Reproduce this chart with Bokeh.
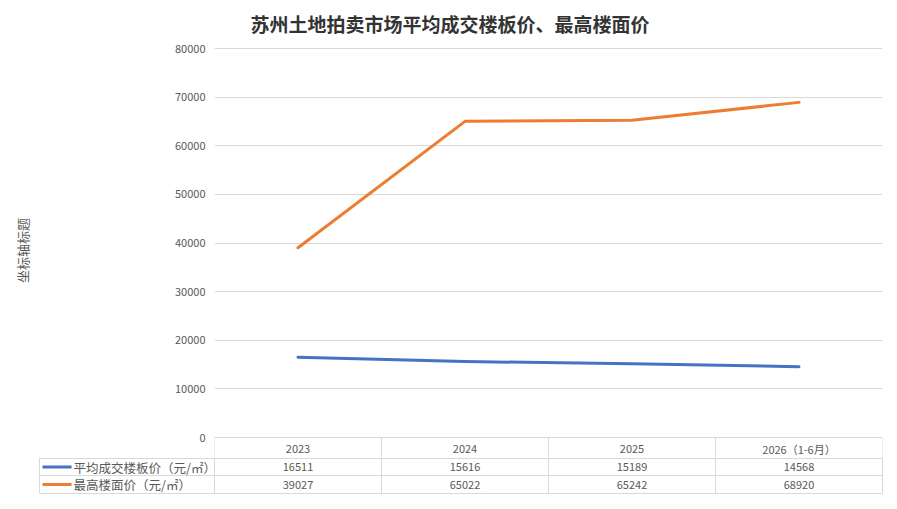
from bokeh.plotting import figure
from bokeh.models import Range1d, SingleIntervalTicker
from bokeh.layouts import column
from bokeh.embed import file_html
from bokeh.resources import INLINE
from bokeh.core.properties import value

title_text = "苏州土地拍卖市场平均成交楼板价、最高楼面价"
y_title = "坐标轴标题"
categories = ["2023", "2024", "2025", "2026（1-6月）"]
series_names = ["平均成交楼板价（元/㎡）", "最高楼面价（元/㎡）"]
avg_price = [16511, 15616, 15189, 14568]
max_price = [39027, 65022, 65242, 68920]
series_values = [avg_price, max_price]
colors = ["#4472C4", "#ED7D31"]

FONT = "Noto Sans CJK SC"
TXT = "#595959"
GRID = "#D9D9D9"
n = len(categories)
xs = [i + 0.5 for i in range(n)]

# ---------------- main chart (with table header row) ----------------
UPP = 80000 / 389.0           # data units per pixel
Y_TOP = 80000 + 5 * UPP
Y_BOT = -20 * UPP
p = figure(frame_width=668, frame_height=414, x_range=Range1d(0, n), y_range=Range1d(Y_BOT, Y_TOP),
           output_backend="svg", toolbar_location=None, x_axis_location=None,
           min_border_left=214, min_border_right=2, min_border_top=37, min_border_bottom=0,
           background_fill_color="white", border_fill_color="white")
p.frame_align = False
p.outline_line_color = None
p.title.text = title_text
p.title.align = "left"
p.title.offset = 36
p.title.standoff = 14
p.title.text_font = FONT
p.title.text_font_size = "19px"
p.title.text_font_style = "bold"
p.title.text_color = "#333333"

p.yaxis.ticker = SingleIntervalTicker(interval=10000)
p.yaxis.axis_line_color = None
p.yaxis.major_tick_line_color = None
p.yaxis.minor_tick_line_color = None
p.yaxis.major_tick_out = 0
p.yaxis.major_tick_in = 0
p.yaxis.minor_tick_out = 0
p.yaxis.minor_tick_in = 0
p.yaxis.major_label_standoff = 9
p.yaxis.major_label_text_font = FONT
p.yaxis.major_label_text_font_size = "11px"
p.yaxis.major_label_text_color = TXT
p.yaxis.axis_label = y_title
p.yaxis.axis_label_text_font = FONT
p.yaxis.axis_label_text_font_size = "13px"
p.yaxis.axis_label_text_font_style = "normal"
p.yaxis.axis_label_text_color = TXT
p.yaxis.axis_label_standoff = 140
p.ygrid.grid_line_color = GRID
p.xgrid.visible = False

for vals, c in zip(series_values, colors):
    p.line(xs, vals, line_color=c, line_width=3, line_cap="round", line_join="round")

# header row of the data table
vx = list(range(n + 1))
p.segment(x0=vx, y0=[0] * (n + 1), x1=vx, y1=[Y_BOT] * (n + 1), line_color=GRID, line_width=1)
p.text(x=xs, y=[-11 * UPP] * n, text=categories, text_font=value(FONT), text_font_size="11px",
       text_color=TXT, text_align="center", text_baseline="middle")

# ---------------- data table rows ----------------
t = figure(frame_width=846, frame_height=38, x_range=Range1d(-1.054, 4.012), y_range=Range1d(38, 0),
           output_backend="svg", toolbar_location=None, x_axis_location=None, y_axis_location=None,
           min_border_left=38, min_border_right=4, min_border_top=0, min_border_bottom=0,
           background_fill_color="white", border_fill_color="white")
t.frame_align = False
t.outline_line_color = None
t.grid.visible = False

LEFT = -1.048
row_lines = [1, 18, 36]
t.segment(x0=[LEFT] * 3, y0=row_lines, x1=[n] * 3, y1=row_lines, line_color=GRID, line_width=1)
tvx = [LEFT] + list(range(n + 1))
t.segment(x0=tvx, y0=[0] * (n + 2), x1=tvx, y1=[36] * (n + 2), line_color=GRID, line_width=1)

row_y = [9.5, 27]
for vals, c, name, ry in zip(series_values, colors, series_names, row_y):
    t.text(x=xs, y=[ry] * n, text=[str(v) for v in vals], text_font=value(FONT),
           text_font_size="11px", text_color=TXT, text_align="center", text_baseline="middle")
    t.segment(x0=[-1.030], y0=[ry], x1=[-0.856], y1=[ry], line_color=c, line_width=3)
    t.text(x=[-0.844], y=[ry], text=[name], text_font=value(FONT), text_font_size="12.5px",
           text_color=TXT, text_align="left", text_baseline="middle")

layout = column(p, t, spacing=0)
open("out.html", "w").write(file_html(layout, INLINE))
